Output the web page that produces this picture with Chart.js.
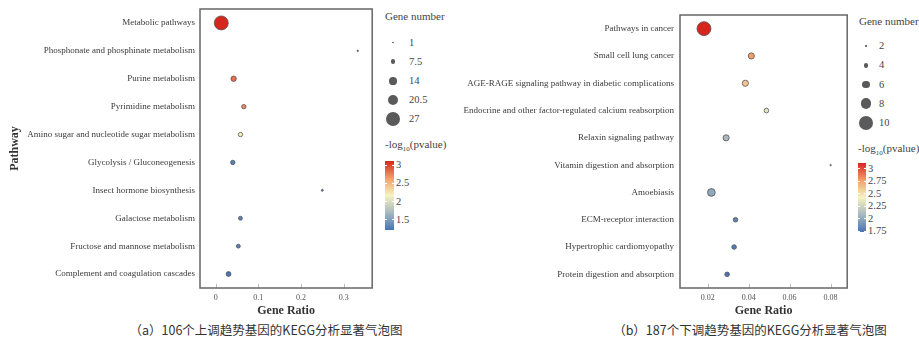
<!DOCTYPE html>
<html>
<head>
<meta charset="utf-8">
<script src="https://cdn.jsdelivr.net/npm/chart.js@4.4.0/dist/chart.umd.min.js"></script>
<style>
  body { margin: 0; background: #fff; width: 919px; height: 338px; position: relative; overflow: hidden;
         font-family: 'Liberation Serif', 'Times New Roman', serif; color: #333; }
  canvas { position: absolute; top: 0; }
  .t { position: absolute; white-space: nowrap; transform: translateY(-50%); line-height: 1; color: #444;
       font-family: 'Liberation Serif', serif; }
  .dot { position: absolute; border-radius: 50%; background: #5a5a5a; }
  .bar { position: absolute; }
  .tick { position: absolute; height: 1px; width: 2px; background: #fff; }
  .cap { position: absolute; font-family: 'Noto Sans CJK SC', sans-serif; font-size: 12.5px; color: #333;
         white-space: nowrap; transform: translate(-50%, -50%); line-height: 1; }
</style>
</head>
<body>
<canvas id="upChart" width="380" height="318" style="left:0"></canvas>
<canvas id="downChart" width="395" height="318" style="left:460px"></canvas>
<div class="cap" style="left:266px;top:330px">（a）106个上调趋势基因的KEGG分析显著气泡图</div>
<div class="cap" style="left:750px;top:330px">（b）187个下调趋势基因的KEGG分析显著气泡图</div>
<script>
// (a) up-regulated genes
const pathwaysUp = ['Metabolic pathways', 'Phosphonate and phosphinate metabolism', 'Purine metabolism',
  'Pyrimidine metabolism', 'Amino sugar and nucleotide sugar metabolism', 'Glycolysis / Gluconeogenesis',
  'Insect hormone biosynthesis', 'Galactose metabolism', 'Fructose and mannose metabolism',
  'Complement and coagulation cascades'];
const ratioUp = [0.013, 0.333, 0.042, 0.066, 0.058, 0.040, 0.250, 0.058, 0.053, 0.030];
const countUp = [27, 1, 9, 7, 7, 7, 2, 6, 6, 8];
const logpUp = [3.11, 3.0, 2.83, 2.72, 2.15, 1.3, 1.28, 1.32, 1.3, 1.22];
const sizeBreaksUp = [1, 7.5, 14, 20.5, 27];
const colorTicksUp = [1.5, 2, 2.5, 3];

// (b) down-regulated genes
const pathwaysDown = ['Pathways in cancer', 'Small cell lung cancer',
  'AGE-RAGE signaling pathway in diabetic complications',
  'Endocrine and other factor-regulated calcium reabsorption', 'Relaxin signaling pathway',
  'Vitamin digestion and absorption', 'Amoebiasis', 'ECM-receptor interaction',
  'Hypertrophic cardiomyopathy', 'Protein digestion and absorption'];
const ratioDown = [0.0182, 0.0413, 0.0384, 0.0487, 0.0290, 0.0800, 0.0218, 0.0336, 0.0329, 0.0295];
const countDown = [10, 5, 5, 4, 5, 2, 6, 4, 4, 4];
const logpDown = [3.12, 2.77, 2.62, 2.35, 2.08, 2.02, 2.0, 1.8, 1.77, 1.73];
const sizeBreaksDown = [2, 4, 6, 8, 10];
const colorTicksDown = [1.75, 2, 2.25, 2.5, 2.75, 3];

const stops = ['#4575b4', '#a7b8c0', '#f6f3bd', '#f29e6c', '#d7261e'];

Chart.defaults.font.family = "'Liberation Serif', 'Times New Roman', serif";

function hex(c) { return [1, 3, 5].map(i => parseInt(c.slice(i, i + 2), 16)); }
function colorFor(v, lo, hi) {
  let t = Math.min(1, Math.max(0, (v - lo) / (hi - lo))) * (stops.length - 1);
  const i = Math.min(Math.floor(t), stops.length - 2), f = t - i;
  const a = hex(stops[i]), b = hex(stops[i + 1]);
  return 'rgb(' + a.map((x, k) => Math.round(x + (b[k] - x) * f)).join(',') + ')';
}
function diamFor(n, lo, hi) { return 1.5 + 12.5 * (n - lo) / (hi - lo); }

// frame round the plot + short inward ticks on the x axis
const boxPlugin = {
  id: 'box',
  afterDatasetsDraw(chart) {
    const { ctx, chartArea: a, scales: { x } } = chart;
    ctx.save();
    ctx.strokeStyle = '#bbb';
    ctx.lineWidth = 1;
    x.ticks.forEach(t => {
      const px = Math.round(x.getPixelForValue(t.value)) + 0.5;
      ctx.beginPath(); ctx.moveTo(px, a.bottom); ctx.lineTo(px, a.bottom - 4); ctx.stroke();
    });
    ctx.strokeStyle = '#666';
    ctx.lineWidth = 1.5;
    ctx.strokeRect(a.left, a.top, a.right - a.left, a.bottom - a.top);
    ctx.restore();
  }
};

function makeChart(id, labels, ratio, count, logp, o) {
  const nLo = Math.min(...count), nHi = Math.max(...count);
  const pLo = Math.min(...logp), pHi = Math.max(...logp);
  new Chart(document.getElementById(id), {
    type: 'bubble',
    data: {
      datasets: [{
        data: labels.map((l, i) => ({ x: ratio[i], y: l, r: diamFor(count[i], nLo, nHi) / 2 })),
        backgroundColor: logp.map(v => colorFor(v, pLo, pHi)),
        borderColor: '#555',
        borderWidth: 0.8
      }]
    },
    options: {
      responsive: false,
      animation: false,
      devicePixelRatio: 1,
      layout: { padding: o.pad },
      plugins: { legend: { display: false }, tooltip: { enabled: false } },
      scales: {
        x: {
          type: 'linear', min: o.xMin, max: o.xMax,
          ticks: { stepSize: o.step, includeBounds: false, font: { size: 8 }, color: '#555', padding: 5 },
          grid: { display: false, drawTicks: false }, border: { display: false },
          title: { display: true, text: 'Gene Ratio', font: { size: 12, weight: 'bold' }, color: '#333', padding: 0 },
          afterFit: s => { s.height = 30; s.paddingLeft = 0; s.paddingRight = 0; }
        },
        y: {
          type: 'category', labels: labels, offset: true,
          ticks: { font: { size: 9 }, color: '#3a3a3a', padding: o.tickPad, autoSkip: false },
          grid: { display: false, drawTicks: false }, border: { display: false },
          title: { display: !!o.yTitle, text: o.yTitle || '', font: { size: 12, weight: 'bold' }, color: '#333', padding: 0 },
          afterFit: s => { s.width = o.yWidth; s.paddingTop = 0; s.paddingBottom = 0; }
        }
      }
    },
    plugins: [boxPlugin]
  });
}

function addEl(cls, style, html) {
  const d = document.createElement('div');
  d.className = cls;
  Object.assign(d.style, style);
  if (html !== undefined) d.innerHTML = html;
  document.body.appendChild(d);
}

function makeLegend(breaks, ticks, count, logp, L) {
  const nLo = Math.min(...count), nHi = Math.max(...count);
  const pLo = Math.min(...logp), pHi = Math.max(...logp);
  addEl('t', { left: L.x + 'px', top: L.titleY + 'px', fontSize: '11px' }, 'Gene number');
  breaks.forEach((b, i) => {
    const d = diamFor(b, nLo, nHi), cy = L.dotY + i * L.dotDy;
    addEl('dot', { left: (L.dotX - d / 2) + 'px', top: (cy - d / 2) + 'px', width: d + 'px', height: d + 'px' });
    addEl('t', { left: L.labX + 'px', top: cy + 'px', fontSize: '10.5px' }, String(b));
  });
  addEl('t', { left: L.x2 + 'px', top: L.cTitleY + 'px', fontSize: '11px' },
    '-log<sub style="font-size:7px">10</sub>(pvalue)');
  const grad = stops.map((c, i) => c + ' ' + (i * 100 / (stops.length - 1)) + '%').join(',');
  addEl('bar', { left: L.x2 + 'px', top: L.barTop + 'px', width: L.barW + 'px', height: L.barH + 'px',
    background: 'linear-gradient(to top,' + grad + ')' });
  ticks.forEach(v => {
    const y = L.barTop + L.barH * (pHi - v) / (pHi - pLo);
    addEl('tick', { left: L.x2 + 'px', top: (y - 0.5) + 'px' });
    addEl('tick', { left: (L.x2 + L.barW - 2) + 'px', top: (y - 0.5) + 'px' });
    addEl('t', { left: (L.x2 + L.barW + 2) + 'px', top: y + 'px', fontSize: '10.5px' }, String(v));
  });
}

makeChart('upChart', pathwaysUp, ratioUp, countUp, logpUp, {
  pad: { left: 8, right: 5, top: 9, bottom: 0 }, yWidth: 192, tickPad: 5,
  xMin: -0.0369, xMax: 0.367, step: 0.1, yTitle: 'Pathway'
});
makeChart('downChart', pathwaysDown, ratioDown, countDown, logpDown, {
  pad: { left: 0, right: 6, top: 15, bottom: 0 }, yWidth: 220, tickPad: 6,
  xMin: 0.0065, xMax: 0.0881, step: 0.02
});

makeLegend(sizeBreaksUp, colorTicksUp, countUp, logpUp, {
  x: 385, titleY: 16, dotX: 393, dotY: 42.7, dotDy: 19.1, labX: 409,
  x2: 385, cTitleY: 146, barTop: 161, barW: 9, barH: 69
});
makeLegend(sizeBreaksDown, colorTicksDown, countDown, logpDown, {
  x: 859, titleY: 21, dotX: 866, dotY: 46, dotDy: 19.25, labX: 879,
  x2: 858, cTitleY: 150, barTop: 163, barW: 8, barH: 69
});
</script>
</body>
</html>
